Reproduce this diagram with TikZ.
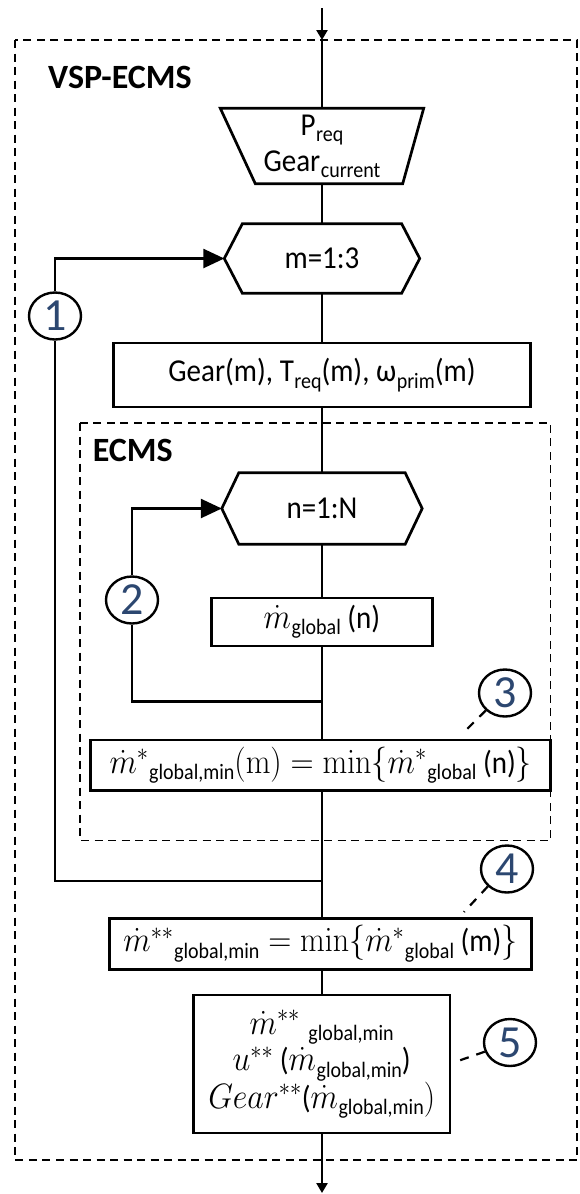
\RequirePackage{fix-cm}
\documentclass[tikz,border=0pt]{standalone}
\usepackage[no-math]{fontspec}
\setmainfont{Carlito}
\usetikzlibrary{arrows.meta,shapes.geometric}
\definecolor{numblue}{RGB}{44,71,112}
\newcommand{\sbs}[1]{\kern0.5pt\raisebox{-0.2em}{\fontsize{20}{20}\selectfont #1}}
\newcommand{\mth}[1]{{\fontsize{32}{32}\selectfont$#1$}}
\newcommand{\vst}[1]{\scalebox{1}[1.1]{#1}}
\begin{document}
\begin{tikzpicture}[x=1pt,y=-1pt,
  txt/.style={inner sep=0pt, font=\fontsize{29}{33}\selectfont},
  box/.style={txt, draw, line width=2.7pt},
  shapeline/.style={line width=2.7pt, line join=miter},
  flow/.style={line width=2.5pt},
  frame/.style={line width=1.8pt, dash pattern=on 8pt off 5.5pt},
  numc/.style={ellipse, draw, line width=2.4pt, minimum width=52pt, minimum height=47pt, inner sep=0pt, text=numblue, font=\fontsize{46}{46}\selectfont},
  leader/.style={line width=2.2pt, dash pattern=on 9pt off 8pt},
  bigarrow/.style={-{Triangle[length=21pt,width=19pt]}},
  smallarrow/.style={-{Triangle[length=10pt,width=11pt]}},
  title/.style={font=\fontsize{34}{34}\selectfont\bfseries, inner sep=0pt, anchor=base west}
]
\useasboundingbox (0,0) rectangle (580,1194);
% frames
\draw[frame] (15,40) rectangle (577,1160);
\draw[frame] (80,423) rectangle (550.5,840.5);
\node[title] (vsp) at (48,88.3) {VSP-ECMS};
\node[title] (ecms) at (92.6,461.7) {ECMS};

% nodes
\node[txt, minimum width=203pt, minimum height=75pt] (trap) at (322,146) {\vst{\begin{tabular}{@{}c@{}}P\sbs{req}\\Gear\sbs{current}\end{tabular}}};
\draw[shapeline] (trap.north west) -- (trap.north east) -- ([xshift=-21pt]trap.south east) -- ([xshift=35pt]trap.south west) -- cycle;

\node[txt, minimum width=195pt, minimum height=69pt] (hexm) at (322,258.5) {\vst{m=1:3}};
\draw[shapeline] (hexm.west) -- ([xshift=18pt]hexm.north west) -- ([xshift=-18pt]hexm.north east) -- (hexm.east) -- ([xshift=-18pt]hexm.south east) -- ([xshift=18pt]hexm.south west) -- cycle;

\node[box, minimum width=416.5pt, minimum height=64pt] (gear) at (322,375) {\vst{Gear(m), T\sbs{req}(m), ω\sbs{prim}(m)}};

\node[txt, minimum width=200pt, minimum height=71pt] (hexn) at (322,508.5) {\vst{n=1:N}};
\draw[shapeline] (hexn.west) -- ([xshift=17pt]hexn.north west) -- ([xshift=-17pt]hexn.north east) -- (hexn.east) -- ([xshift=-17pt]hexn.south east) -- ([xshift=17pt]hexn.south west) -- cycle;

\node[box, minimum width=221.6pt, minimum height=48pt] (md) at (322,622) {\vst{\mth{\dot{m}}\sbs{global} (n)}};

\node[box, minimum width=460pt, minimum height=50.7pt] (box3) at (320.7,765.3) {\vst{\mth{\dot{m}^{*}}\sbs{global,min}\mth{(\mathrm{m}) = \min\{\dot{m}^{*}}\sbs{global} (n)\mth{\}}}};

\node[box, minimum width=422pt, minimum height=51pt] (box4) at (320.4,943.7) {\vst{\mth{\dot{m}^{**}}\sbs{global,min}\mth{{}=\min\{\dot{m}^{*}}\sbs{global} (m)\mth{\}}}};

\node[box, minimum width=256.7pt, minimum height=138pt] (box5) at (321.7,1064) {\vst{\begin{tabular}{@{}c@{}}\mth{\dot{m}^{**}}\;\sbs{global,min}\\\mth{u^{**}} (\mth{\dot{m}}\sbs{global,min})\\\mth{Gear^{**}}(\mth{\dot{m}}\sbs{global,min}\mth{)}\end{tabular}}};

% numbered circles
\node[numc] (c1) at (55,316) {1};
\node[numc] (c2) at (132,600) {2};
\node[numc] (c3) at (505,693) {3};
\node[numc] (c4) at (507,869) {4};
\node[numc] (c5) at (510,1042.5) {5};

% coordinates
\coordinate (top) at (322,8);
\coordinate (inarr) at (322,40);
\coordinate (j2) at (322,701.7);
\coordinate (j1) at (322,881);
\coordinate (bot) at (322,1193);
\coordinate (l3) at (462,734);
\coordinate (l4) at (464,912);
\coordinate (l5) at (455,1062);

% main flow
\draw[flow, smallarrow] (top) -- (inarr);
\draw[flow] (inarr) -- (trap.north);
\draw[flow] (trap.south) -- (hexm.north);
\draw[flow] (hexm.south) -- (gear.north);
\draw[flow] (gear.south) -- (hexn.north);
\draw[flow] (hexn.south) -- (md.north);
\draw[flow] (md.south) -- (box3.north -| md.south);
\draw[flow] (box3.south -| md.south) -- (box4.north -| md.south);
\draw[flow] (box4.south -| md.south) -- (box5.north -| md.south);
\draw[flow, smallarrow] (box5.south -| md.south) -- (bot);

% loops
\draw[flow] (j2) -| (c2);
\draw[flow, bigarrow] (c2) |- (hexn.west);
\draw[flow] (j1) -| (c1);
\draw[flow, bigarrow] (c1) |- (hexm.west);

% leaders
\draw[leader] (c3.south west) -- (l3);
\draw[leader] (c4.south west) -- (l4);
\draw[leader] (c5.200) -- (l5);
\end{tikzpicture}
\end{document}
